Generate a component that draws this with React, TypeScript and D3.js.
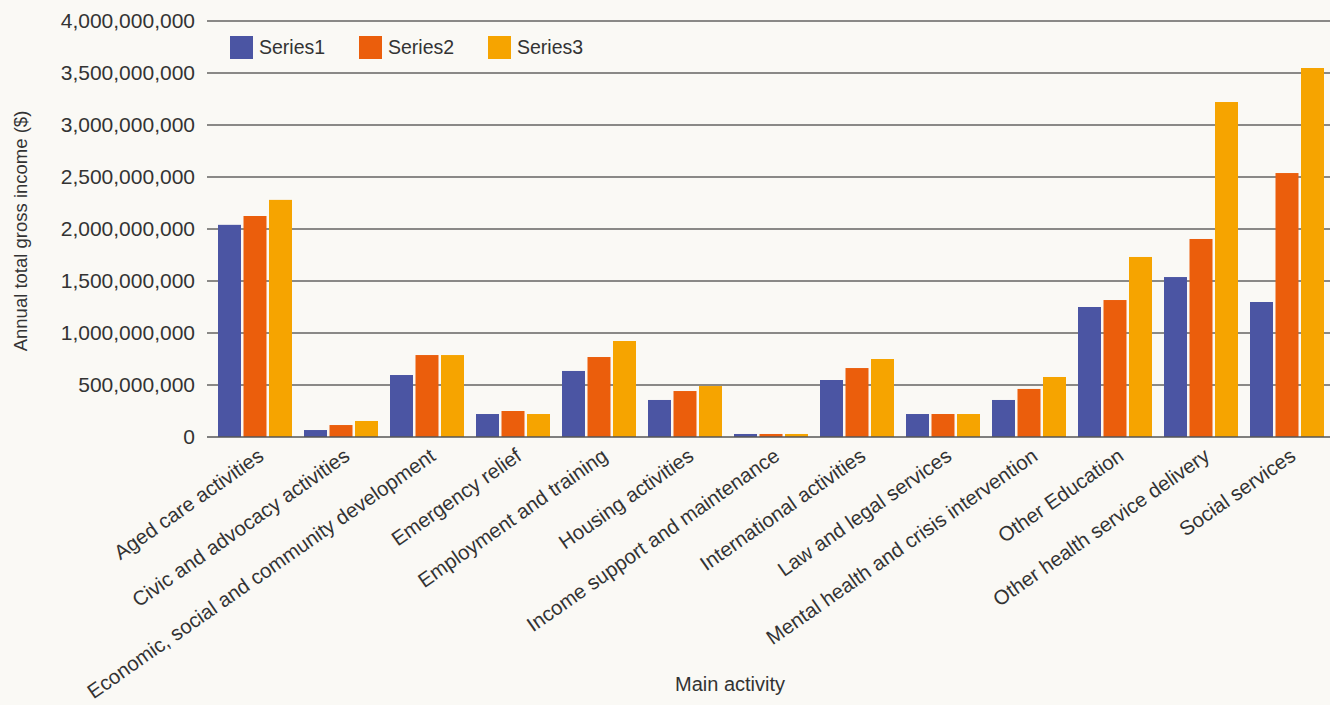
import React from "react";
import * as d3 from "d3";

const categories = [
  "Aged care activities",
  "Civic and advocacy activities",
  "Economic, social and community development",
  "Emergency relief",
  "Employment and training",
  "Housing activities",
  "Income support and maintenance",
  "International activities",
  "Law and legal services",
  "Mental health and crisis intervention",
  "Other Education",
  "Other health service delivery",
  "Social services",
];

const seriesNames = ["Series1", "Series2", "Series3"];

const series1 = [2040e6, 67e6, 596e6, 221e6, 635e6, 356e6, 29e6, 548e6, 221e6, 356e6, 1250e6, 1538e6, 1298e6];
const series2 = [2125e6, 115e6, 788e6, 250e6, 769e6, 442e6, 29e6, 663e6, 221e6, 462e6, 1317e6, 1904e6, 2538e6];
const series3 = [2280e6, 154e6, 788e6, 221e6, 923e6, 490e6, 29e6, 750e6, 221e6, 577e6, 1731e6, 3221e6, 3548e6];

const yTicks = [0, 500e6, 1000e6, 1500e6, 2000e6, 2500e6, 3000e6, 3500e6, 4000e6];

const colors = ["#4b55a3", "#eb5e0c", "#f6a400"];

const W = 1330;
const H = 705;
const FONT = "'Liberation Sans', Arial, sans-serif";

export default function App() {
  const values = [series1, series2, series3];
  const plotLeft = 212;
  const plotRight = 1330;
  const y = d3.scaleLinear().domain([0, 4000e6]).range([437, 21]);
  const x = d3
    .scaleBand<string>()
    .domain(categories)
    .range([plotLeft, plotRight])
    .paddingInner(12 / 86)
    .paddingOuter(6 / 86);
  const xs = d3
    .scaleBand<string>()
    .domain(seriesNames)
    .range([0, x.bandwidth()])
    .paddingInner(0.098)
    .paddingOuter(0);
  const fmt = d3.format(",");

  return (
    <svg
      width={W}
      height={H}
      style={{ position: "absolute", left: 0, top: 0, background: "#faf9f5" }}
      fontFamily={FONT}
    >
      <rect x={0} y={0} width={W} height={H} fill="#faf9f5" />
      {yTicks.map((t) => (
        <g key={t}>
          {t !== 0 && (
            <line x1={207} x2={W} y1={y(t)} y2={y(t)} stroke="#1a1a1a" strokeWidth={1.2} />
          )}
          <text
            x={195}
            y={y(t)}
            dy="0.35em"
            textAnchor="end"
            fontSize={21}
            fill="#333"
          >
            {fmt(t)}
          </text>
        </g>
      ))}
      {categories.map((c, i) => (
        <g key={c} transform={`translate(${x(c)},0)`}>
          {values.map((vals, s) => (
            <rect
              key={s}
              x={xs(seriesNames[s])}
              y={y(vals[i])}
              width={xs.bandwidth()}
              height={y(0) - y(vals[i])}
              fill={colors[s]}
            />
          ))}
        </g>
      ))}
      <line x1={207} x2={W} y1={y(0)} y2={y(0)} stroke="#555" strokeOpacity={0.75} strokeWidth={2} />
      {categories.map((c) => {
        const cx = (x(c) as number) + x.bandwidth() / 2 + 10;
        return (
          <text
            key={c}
            transform={`translate(${cx},459) rotate(-35)`}
            textAnchor="end"
            fontSize={20.4}
            fill="#333"
          >
            {c}
          </text>
        );
      })}
      <text
        transform="translate(27,231) rotate(-90)"
        textAnchor="middle"
        fontSize={18.5}
        fill="#333"
      >
        Annual total gross income ($)
      </text>
      <text x={730} y={691} textAnchor="middle" fontSize={20} fill="#333">
        Main activity
      </text>
      {seriesNames.map((n, s) => (
        <g key={n} transform={`translate(${230 + s * 129},36)`}>
          <rect width={23} height={23} fill={colors[s]} />
          <text x={29} y={11.5} dy="0.35em" fontSize={19.5} fill="#333">
            {n}
          </text>
        </g>
      ))}
    </svg>
  );
}
